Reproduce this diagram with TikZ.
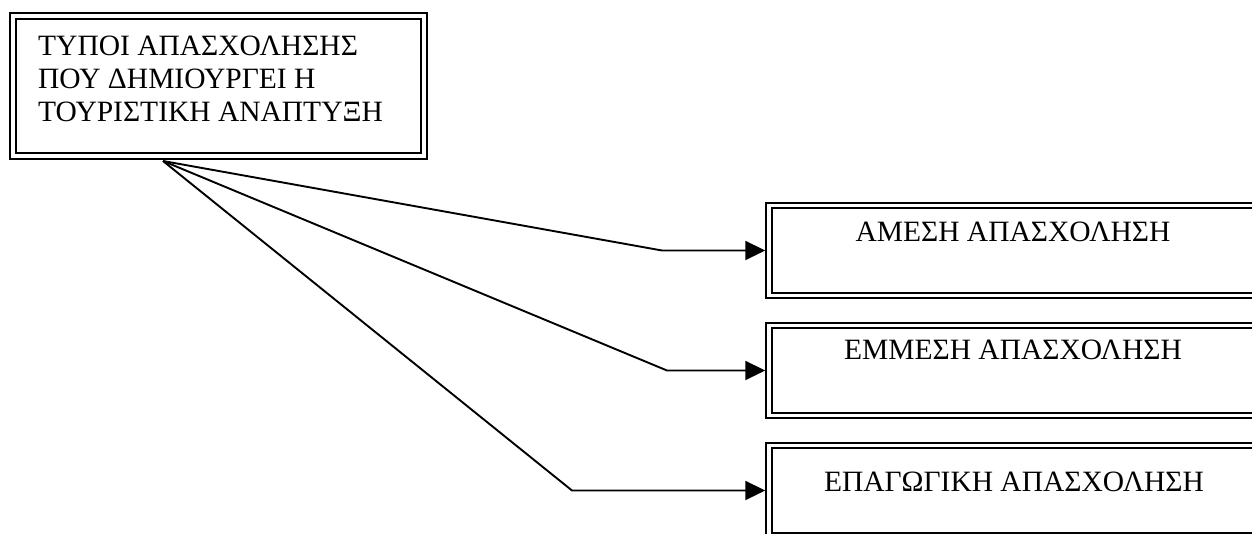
\documentclass[tikz,border=0pt]{standalone}
\usepackage{fontspec}
\setmainfont{Liberation Serif}
\usetikzlibrary{arrows.meta}
\begin{document}
\begin{tikzpicture}[x=1pt,y=-1pt,
  dbox/.style={draw=black, line width=1.9pt, double=white, double distance=3.6pt,
    inner sep=0pt, outer sep=3.7pt, minimum height=90pt},
  lbl/.style={inner sep=0pt, font=\fontsize{29.5}{33}\selectfont},
  conn/.style={draw=black, line width=1.9pt, -{Triangle[length=20pt,width=19pt]}}]
\useasboundingbox (0,0) rectangle (1252,533);
\fill[white] (0,0) rectangle (1252,533);
\clip (0,0) rectangle (1252,533);
% source box
\node[dbox, minimum width=411pt, minimum height=140pt] (b0) at (218.5,86) {};
\node[lbl, align=left, anchor=north west] (t0) at (38,36)
  {ΤΥΠΟΙ ΑΠΑΣΧΟΛΗΣΗΣ\\ΠΟΥ ΔΗΜΙΟΥΡΓΕΙ Η\\ΤΟΥΡΙΣΤΙΚΗ ΑΝΑΠΤΥΞΗ};
% target boxes
\node[dbox, minimum width=493pt] (b1) at (1015.5,250.5) {};
\node[dbox, minimum width=493pt] (b2) at (1015.5,370.5) {};
\node[dbox, minimum width=493pt] (b3) at (1015.5,490.5) {};
\node[lbl] (t1) at (1013,232) {ΑΜΕΣΗ ΑΠΑΣΧΟΛΗΣΗ};
\node[lbl] (t2) at (1013,350) {ΕΜΜΕΣΗ ΑΠΑΣΧΟΛΗΣΗ};
\node[lbl] (t3) at (1014,482) {ΕΠΑΓΩΓΙΚΗ ΑΠΑΣΧΟΛΗΣΗ};
% connectors
\coordinate (o) at (163,161);
\coordinate (k1) at (662,250.5);
\coordinate (k2) at (667,370.5);
\coordinate (k3) at (572,490.5);
\draw[conn] (o) -- (k1) -- (b1.west);
\draw[conn] (o) -- (k2) -- (b2.west);
\draw[conn] (o) -- (k3) -- (b3.west);
\end{tikzpicture}
\end{document}
